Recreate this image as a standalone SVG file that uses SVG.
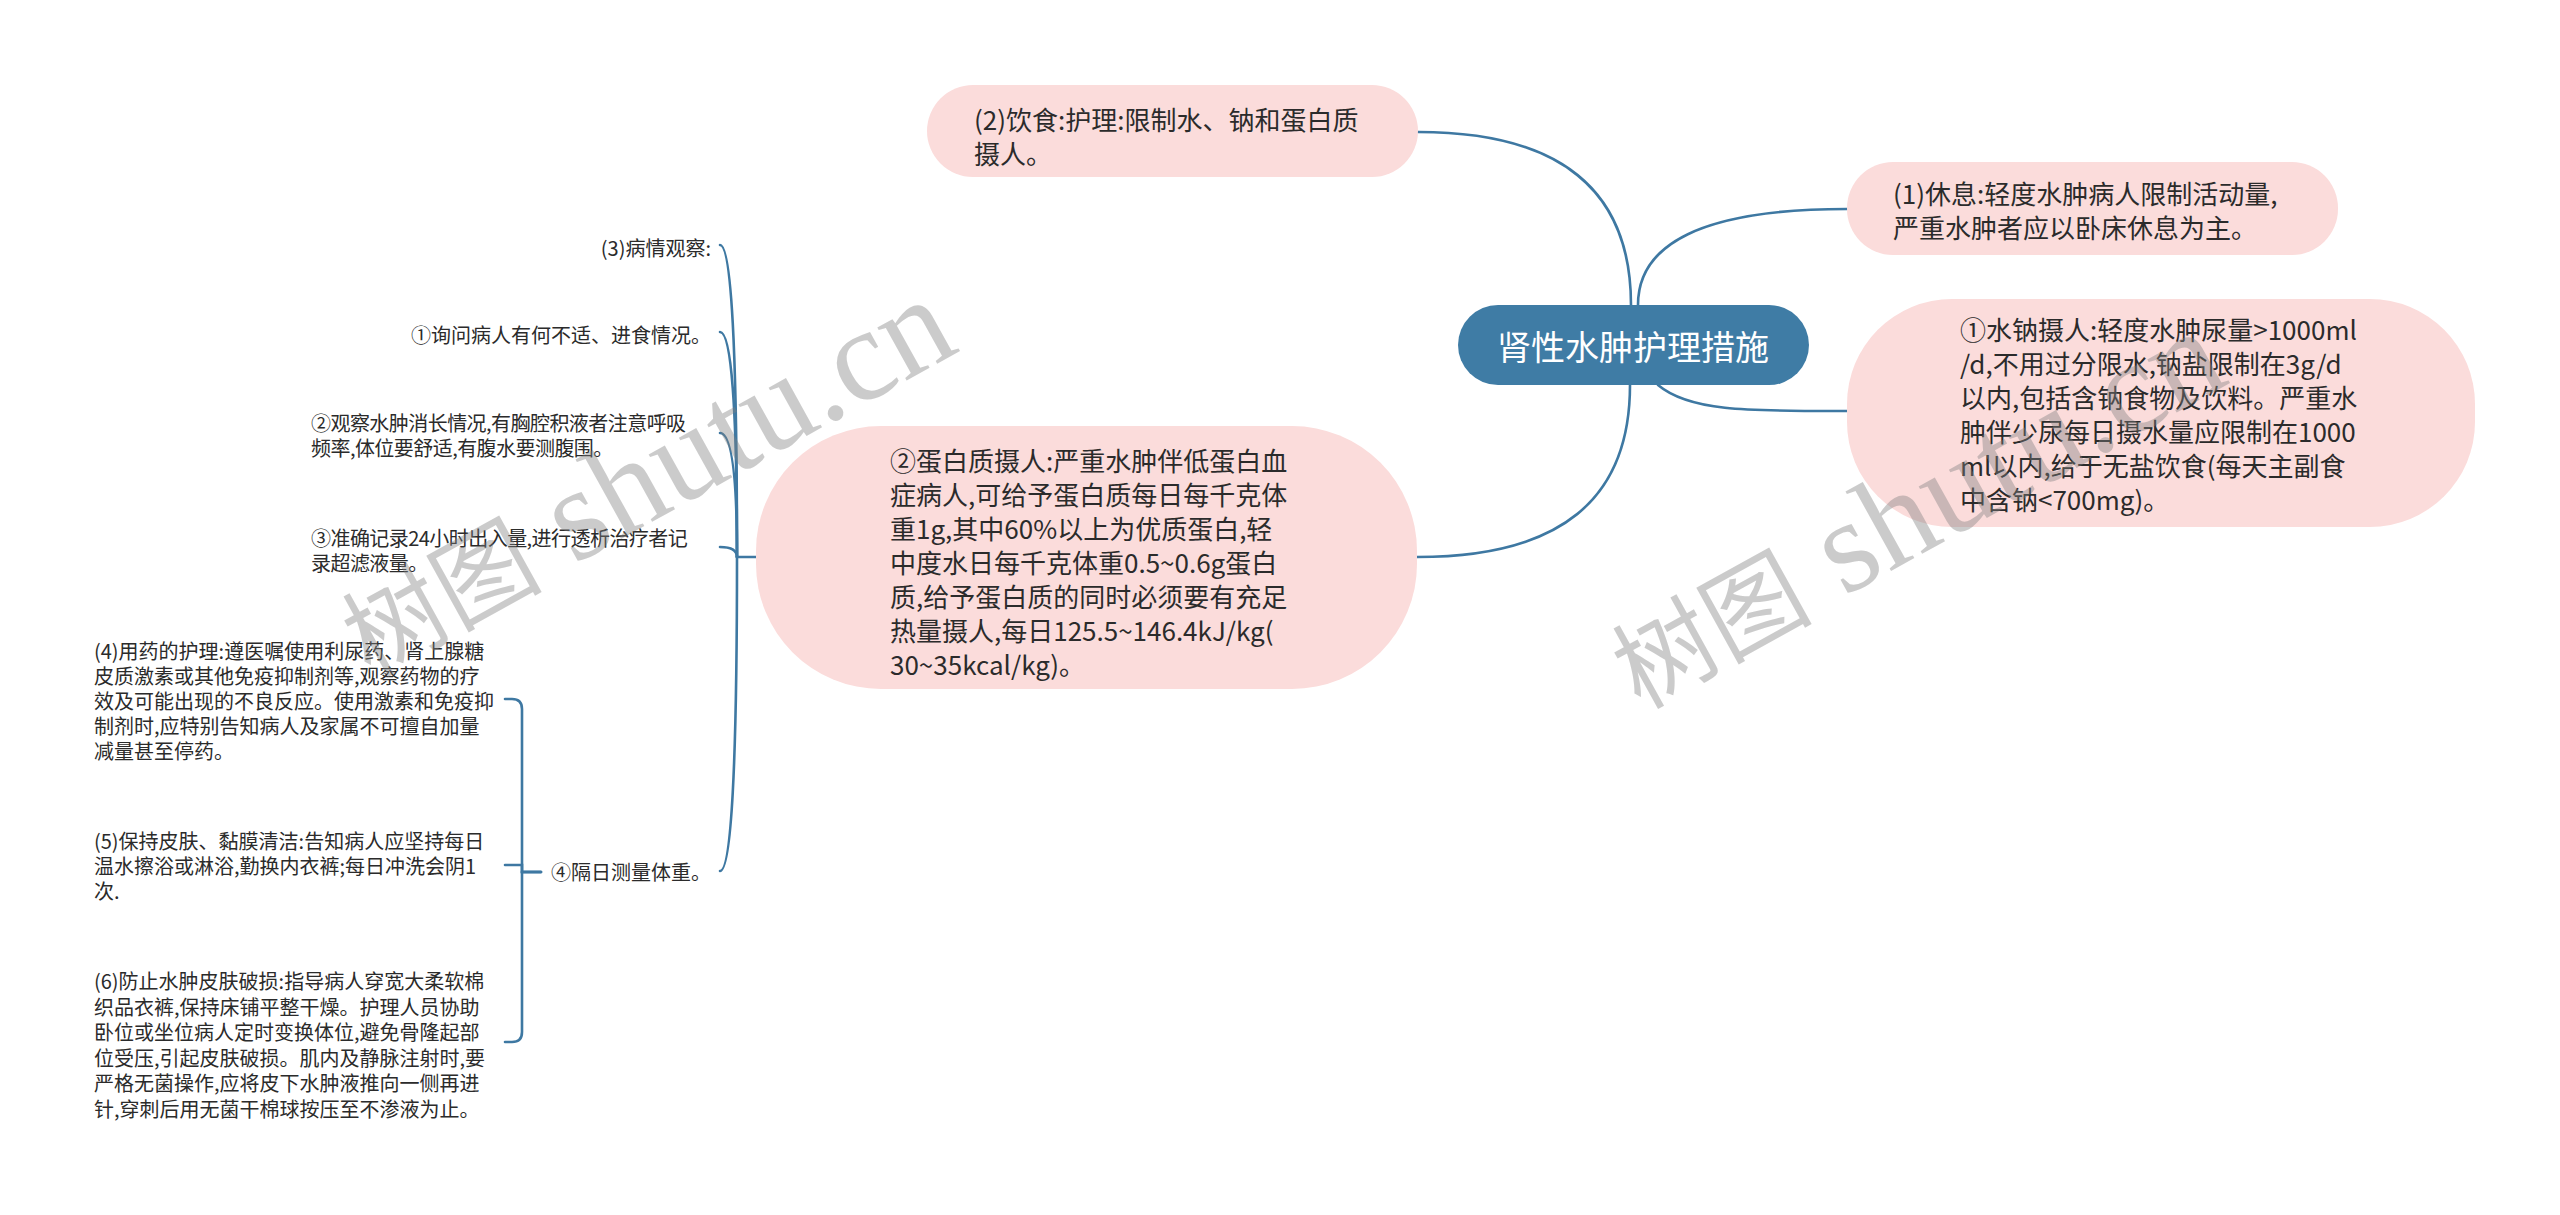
<svg xmlns="http://www.w3.org/2000/svg" width="2560" height="1215" viewBox="0 0 2560 1215">
<style>
.bg{fill:#ffffff}
.pink{fill:#fbdcdb}
.root{fill:#3f7ca5}
.t{font-family:"Noto Sans CJK SC","Liberation Sans",sans-serif;fill:#2b2b2b;dominant-baseline:central}
.t26{font-size:26px}
.t20{font-size:20px}
.tight{letter-spacing:-0.55px}
.rt{font-family:"Noto Sans CJK SC","Liberation Sans",sans-serif;font-size:34px;fill:#ffffff;dominant-baseline:central;text-anchor:middle}
.c{fill:none;stroke:#3e78a2;stroke-width:2.6;stroke-linecap:round}
.wm{fill:#808080;opacity:0.4}
.wmc{font-family:"Noto Sans CJK SC",sans-serif;font-size:100px}
.wml{font-family:"Liberation Serif",serif;font-size:132px}
</style>
<rect class="bg" x="0" y="0" width="2560" height="1215"/>

<g id="connectors">
  <path class="c" d="M1631 305 C1631 190 1560 132 1418 132"/>
  <path class="c" d="M1638 305 C1638 245 1700 209 1847 209"/>
  <path class="c" d="M1658 385 C1690 412 1750 411 1847 411"/>
  <path class="c" d="M1630 385 C1630 500 1560 557 1417 557"/>
  <path class="c" d="M756 557 H737"/>
  <path class="c" d="M737 557 Q737 245 720 245"/>
  <path class="c" d="M737 557 Q737 332 720 332"/>
  <path class="c" d="M737 557 Q737 433 720 433"/>
  <path class="c" d="M737 557 Q737 547 720 547"/>
  <path class="c" d="M737 557 Q737 871 720 871"/>
  <path class="c" d="M541 872 H522 V709 Q522 699 512 699 H505"/>
  <path class="c" d="M541 872 H522 V865 H505"/>
  <path class="c" d="M541 872 H522 V1032 Q522 1042 512 1042 H505"/>
</g>

<g id="root">
  <rect class="root" x="1458" y="305" width="351" height="80" rx="40"/>
  <text class="rt" x="1633" y="345">肾性水肿护理措施</text>
</g>

<g id="n-diet">
  <rect class="pink" x="927" y="85" width="491" height="92" rx="46"/>
  <text class="t t26"><tspan x="974" y="118">(2)饮食:护理:限制水、钠和蛋白质</tspan><tspan x="974" y="152">摄人。</tspan></text>
</g>

<g id="n-rest">
  <rect class="pink" x="1847" y="162" width="491" height="93" rx="46"/>
  <text class="t t26"><tspan x="1893" y="192">(1)休息:轻度水肿病人限制活动量,</tspan><tspan x="1893" y="226">严重水肿者应以卧床休息为主。</tspan></text>
</g>

<g id="n-sodium">
  <rect class="pink" x="1847" y="299" width="628" height="228" rx="105"/>
  <text class="t t26"><tspan x="1960" y="328">①水钠摄人:轻度水肿尿量&gt;1000ml</tspan><tspan x="1960" y="362">/d,不用过分限水,钠盐限制在3g/d</tspan><tspan x="1960" y="396">以内,包括含钠食物及饮料。严重水</tspan><tspan x="1960" y="430">肿伴少尿每日摄水量应限制在1000</tspan><tspan x="1960" y="464">ml以内,给于无盐饮食(每天主副食</tspan><tspan x="1960" y="498">中含钠&lt;700mg)。</tspan></text>
</g>

<g id="n-protein">
  <rect class="pink" x="756" y="426" width="661" height="263" rx="125"/>
  <text class="t t26"><tspan x="890" y="459">②蛋白质摄人:严重水肿伴低蛋白血</tspan><tspan x="890" y="493">症病人,可给予蛋白质每日每千克体</tspan><tspan x="890" y="527">重1g,其中60%以上为优质蛋白,轻</tspan><tspan x="890" y="561">中度水日每千克体重0.5~0.6g蛋白</tspan><tspan x="890" y="595">质,给予蛋白质的同时必须要有充足</tspan><tspan x="890" y="629">热量摄人,每日125.5~146.4kJ/kg(</tspan><tspan x="890" y="663">30~35kcal/kg)。</tspan></text>
</g>

<g id="n-observe">
  <text class="t t20" x="711" y="247" text-anchor="end">(3)病情观察:</text>
</g>
<g id="n-ask">
  <text class="t t20" x="711" y="334" text-anchor="end">①询问病人有何不适、进食情况。</text>
</g>
<g id="n-edema">
  <text class="t t20 tight"><tspan x="311" y="422">②观察水肿消长情况,有胸腔积液者注意呼吸</tspan><tspan x="311" y="447">频率,体位要舒适,有腹水要测腹围。</tspan></text>
</g>
<g id="n-record">
  <text class="t t20 tight"><tspan x="311" y="537">③准确记录24小时出入量,进行透析治疗者记</tspan><tspan x="311" y="562">录超滤液量。</tspan></text>
</g>
<g id="n-weight">
  <text class="t t20" x="711" y="871" text-anchor="end">④隔日测量体重。</text>
</g>
<g id="n-drug">
  <text class="t t20"><tspan x="94" y="650">(4)用药的护理:遵医嘱使用利尿药、肾上腺糖</tspan><tspan x="94" y="675">皮质激素或其他免疫抑制剂等,观察药物的疗</tspan><tspan x="94" y="700">效及可能出现的不良反应。使用激素和免疫抑</tspan><tspan x="94" y="725">制剂时,应特别告知病人及家属不可擅自加量</tspan><tspan x="94" y="750">减量甚至停药。</tspan></text>
</g>
<g id="n-skin">
  <text class="t t20"><tspan x="94" y="840">(5)保持皮肤、黏膜清洁:告知病人应坚持每日</tspan><tspan x="94" y="865">温水擦浴或淋浴,勤换内衣裤;每日冲洗会阴1</tspan><tspan x="94" y="890">次.</tspan></text>
</g>
<g id="n-break">
  <text class="t t20"><tspan x="94" y="980">(6)防止水肿皮肤破损:指导病人穿宽大柔软棉</tspan><tspan x="94" y="1005.5">织品衣裤,保持床铺平整干燥。护理人员协助</tspan><tspan x="94" y="1031">卧位或坐位病人定时变换体位,避免骨隆起部</tspan><tspan x="94" y="1056.5">位受压,引起皮肤破损。肌内及静脉注射时,要</tspan><tspan x="94" y="1082">严格无菌操作,应将皮下水肿液推向一侧再进</tspan><tspan x="94" y="1107.5">针,穿刺后用无菌干棉球按压至不渗液为止。</tspan></text>
</g>

<g id="watermarks">
  <text class="wm" transform="translate(370 678) rotate(-29)"><tspan class="wmc">树图</tspan><tspan class="wml"> shutu.cn</tspan></text>
  <text class="wm" transform="translate(1640 710) rotate(-29)"><tspan class="wmc">树图</tspan><tspan class="wml"> shutu.cn</tspan></text>
</g>
</svg>
